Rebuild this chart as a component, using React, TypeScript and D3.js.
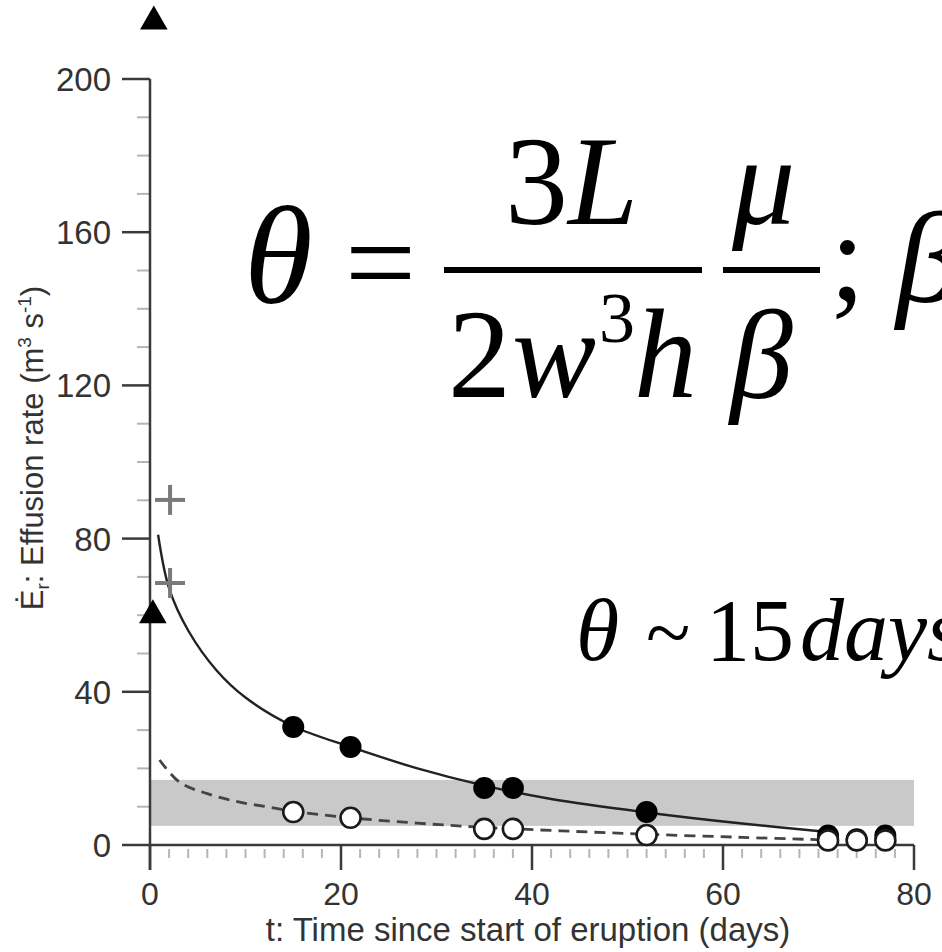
import React from "react";
import * as d3 from "d3";

// ---- data ----
const xTicks = [0, 20, 40, 60, 80];
const yTicks = [0, 40, 80, 120, 160, 200];

const solidCurveT = [0.85, 2, 4, 7, 10, 15, 21, 28, 35, 42, 52, 62, 71];
const solidCurveV = [81, 67, 56, 45.5, 38.5, 31, 25.6, 20, 15.5, 12, 8.5, 5.6, 3.4];

const dashedCurveT = [1.0, 3.1, 6.0, 9.4, 12.9, 15, 21, 28, 35, 43, 52, 62, 71];
const dashedCurveV = [22.2, 16.4, 13.4, 11.2, 9.7, 8.8, 7.1, 5.7, 4.6, 3.7, 2.8, 2.0, 1.3];

const filledT = [15, 21, 35, 38, 52, 71, 74, 77];
const filledV = [30.8, 25.6, 14.9, 14.9, 8.6, 2.5, 1.5, 2.5];

const openT = [15, 21, 35, 38, 52, 71, 74, 77];
const openV = [8.6, 7.1, 4.2, 4.2, 2.6, 1.2, 1.2, 1.2];

const plusT = [2.1, 2.1];
const plusV = [90.1, 68.4];

const triT = [0.4, 0.3];
const triV = [215, 60];

const bandRange = [5.0, 17.0];
const bandT = [0, 80];

export default function App() {
  const xs = d3.scaleLinear().domain([0, 80]).range([150, 914]);
  const ys = d3.scaleLinear().domain([0, 200]).range([845, 79]);

  const line = d3
    .line<[number, number]>()
    .x((d) => xs(d[0]))
    .y((d) => ys(d[1]))
    .curve(d3.curveCatmullRom.alpha(0.5));

  const solidPath = line(solidCurveT.map((t, i) => [t, solidCurveV[i]]) as [number, number][]) || "";
  const dashedPath = line(dashedCurveT.map((t, i) => [t, dashedCurveV[i]]) as [number, number][]) || "";

  const minorX = d3.range(0, 81, 2).filter((v) => v % 20 !== 0);
  const minorY = d3.range(0, 201, 10).filter((v) => v % 40 !== 0);

  const axisColor = "#3a3a3a";
  const sans = "'Liberation Sans', Arial, Helvetica, sans-serif";
  const serif = "'Liberation Serif', 'Times New Roman', serif";

  const triPath = d3.symbol().type(d3.symbolTriangle).size(330)() || "";

  return (
    <svg
      width={942}
      height={952}
      style={{ position: "absolute", left: 0, top: 0, background: "#fff" }}
    >
      <rect x={0} y={0} width={942} height={952} fill="#fff" />

      {/* grey band */}
      <rect
        x={xs(bandT[0])}
        y={ys(bandRange[1])}
        width={xs(bandT[1]) - xs(bandT[0])}
        height={ys(bandRange[0]) - ys(bandRange[1])}
        fill="#c9c9c9"
      />

      {/* minor ticks */}
      {minorX.map((v) => (
        <line key={"mx" + v} x1={xs(v)} x2={xs(v)} y1={ys(0) + 4} y2={ys(0) + 13} stroke="#b5b5b5" strokeWidth={2} />
      ))}
      {minorY.map((v) => (
        <line key={"my" + v} x1={xs(0) - 13} x2={xs(0)} y1={ys(v)} y2={ys(v)} stroke="#b5b5b5" strokeWidth={2} />
      ))}

      {/* axes */}
      <line x1={xs(0)} x2={xs(0)} y1={ys(200)} y2={ys(0) + 25} stroke={axisColor} strokeWidth={2.5} />
      <line x1={xs(0)} x2={xs(80)} y1={ys(0)} y2={ys(0)} stroke={axisColor} strokeWidth={2.5} />
      {xTicks.map((v) => (
        <g key={"xt" + v}>
          <line x1={xs(v)} x2={xs(v)} y1={ys(0)} y2={ys(0) + 25} stroke={axisColor} strokeWidth={2.5} />
          <text x={xs(v)} y={905} textAnchor="middle" fontFamily={sans} fontSize={32} fill="#333">
            {v}
          </text>
        </g>
      ))}
      {yTicks.map((v) => (
        <g key={"yt" + v}>
          <line x1={xs(0) - 28} x2={xs(0)} y1={ys(v)} y2={ys(v)} stroke={axisColor} strokeWidth={2.5} />
          <text x={111} y={ys(v) + 12} textAnchor="end" fontFamily={sans} fontSize={33} fill="#333">
            {v}
          </text>
        </g>
      ))}

      {/* axis titles */}
      <text x={528} y={941} textAnchor="middle" fontFamily={sans} fontSize={33} fill="#333">
        t: Time since start of eruption (days)
      </text>
      <text
        transform="translate(43,448) rotate(-90)"
        textAnchor="middle"
        fontFamily={sans}
        fontSize={31}
        fill="#333"
      >
        {"Ė"}
        <tspan fontSize={19} dy={6}>r</tspan>
        <tspan dy={-6}>: Effusion rate (m</tspan>
        <tspan fontSize={19} dy={-12}>3</tspan>
        <tspan dy={12}> s</tspan>
        <tspan fontSize={19} dy={-12}>-1</tspan>
        <tspan dy={12}>)</tspan>
      </text>

      {/* curves */}
      <path d={solidPath} fill="none" stroke="#222" strokeWidth={2.4} />
      <path d={dashedPath} fill="none" stroke="#444" strokeWidth={2.8} strokeDasharray="11,7" />

      {/* plus markers */}
      {plusT.map((t, i) => (
        <g key={"p" + i} stroke="#7a7a7a" strokeWidth={4}>
          <line x1={xs(t) - 15} x2={xs(t) + 15} y1={ys(plusV[i])} y2={ys(plusV[i])} />
          <line x1={xs(t)} x2={xs(t)} y1={ys(plusV[i]) - 15} y2={ys(plusV[i]) + 15} />
        </g>
      ))}

      {/* triangles */}
      {triT.map((t, i) => (
        <path key={"tr" + i} d={triPath} transform={`translate(${xs(t)},${ys(triV[i])})`} fill="#000" />
      ))}

      {/* filled points */}
      {filledT.map((t, i) => (
        <circle key={"f" + i} cx={xs(t)} cy={ys(filledV[i])} r={11} fill="#000" />
      ))}
      {/* open points */}
      {openT.map((t, i) => (
        <circle key={"o" + i} cx={xs(t)} cy={ys(openV[i])} r={10} fill="#fff" stroke="#1a1a1a" strokeWidth={2.6} />
      ))}

      {/* main formula */}
      <g fontFamily={serif} fill="#000">
        <text x={244} y={303} fontSize={140} fontStyle="italic">θ</text>
        <text x={345} y={305} fontSize={126}>=</text>
        <rect x={444} y={267} width={258} height={6} />
        <rect x={723} y={267} width={97} height={6} />
        <text x={505} y={224} fontSize={126}>
          3<tspan fontStyle="italic">L</tspan>
        </text>
        <text x={732} y={224} fontSize={126} fontStyle="italic">μ</text>
        <text x={448} y={397} fontSize={126}>2</text>
        <text x={512} y={397} fontSize={126} fontStyle="italic">w</text>
        <text x={599} y={342} fontSize={72}>3</text>
        <text x={634} y={397} fontSize={126} fontStyle="italic">h</text>
        <text x={730} y={398} fontSize={126} fontStyle="italic">β</text>
        <text x={830} y={300} fontSize={126}>;</text>
        <text x={896} y={302} fontSize={130} fontStyle="italic">β</text>
      </g>

      {/* secondary formula */}
      <g fontFamily={serif} fill="#000">
        <text x={576} y={660} fontSize={88} fontStyle="italic">θ</text>
        <text x={646} y={660} fontSize={82}>~</text>
        <text x={706} y={660} fontSize={88}>15</text>
        <text x={800} y={660} fontSize={88} fontStyle="italic">days</text>
      </g>
    </svg>
  );
}
